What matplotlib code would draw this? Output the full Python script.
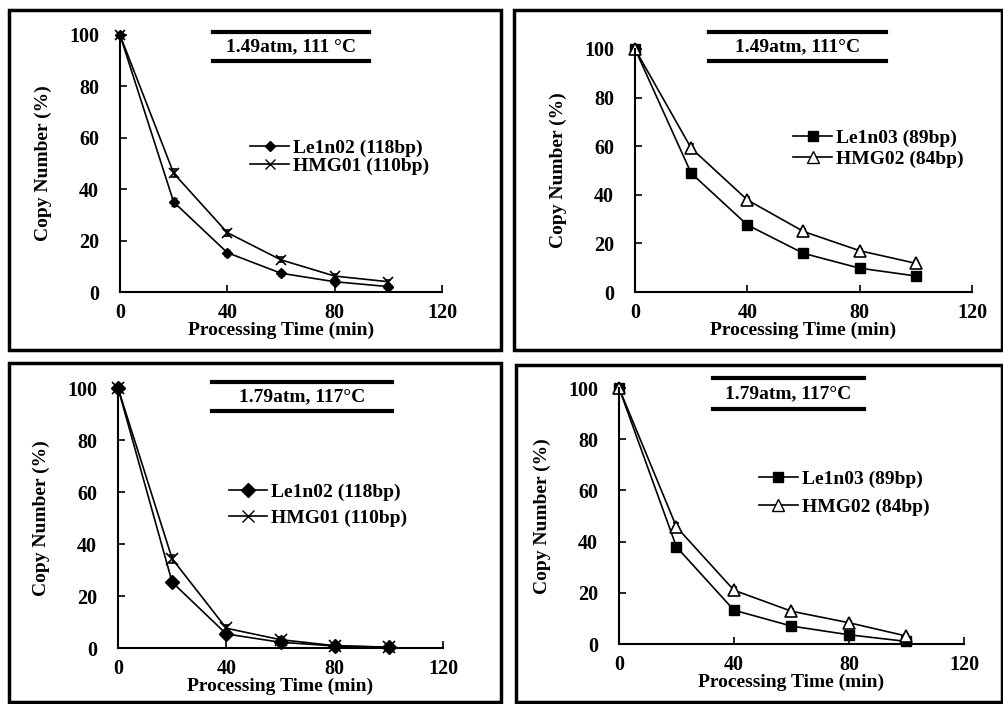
import matplotlib.pyplot as plt
from matplotlib.patches import Rectangle
from matplotlib.lines import Line2D

# processing time (min)
time = [0, 20, 40, 60, 80, 100]

# 1.49atm, 111 C
le1n02_111 = [100, 35, 15.3, 7.3, 4.0, 2.1]
hmg01_111 = [100, 46.2, 23.1, 12.5, 6.2, 4.0]
le1n03_111 = [100, 48.9, 27.6, 15.9, 9.8, 6.6]
hmg02_111 = [100, 59.2, 37.9, 24.9, 17.0, 11.8]

# 1.79atm, 117 C
le1n02_117 = [100, 25.3, 5.4, 2.2, 0.8, 0.3]
hmg01_117 = [100, 34.3, 7.6, 3.2, 0.9, 0.3]
le1n03_117 = [100, 37.9, 13.2, 7.0, 3.6, 1.0]
hmg02_117 = [100, 45.7, 21.0, 12.8, 8.3, 3.1]

# small error bars seen on the points
err = [0, 1.5, 1.2, 1.0, 0.8, 0.8]

conditions = ['1.49atm, 111 \u00b0C', '1.49atm, 111\u00b0C', '1.79atm, 117\u00b0C', '1.79atm, 117\u00b0C']

plt.rcParams['font.family'] = ['Liberation Serif', 'DejaVu Serif']
plt.rcParams['font.weight'] = 'bold'

W, H = 1004, 704
fig = plt.figure(figsize=(10.04, 7.04), dpi=100)


def box(x0, y0, x1, y1):
    # pixel box (top-left origin) -> figure fraction
    return [x0 / W, 1 - y1 / H, (x1 - x0) / W, (y1 - y0) / H]


# panel frames
for x0, y0, x1, y1 in [(9, 10, 501, 350), (514, 10, 1002, 350),
                       (9, 363, 501, 702), (516, 365, 1002, 702)]:
    fig.add_artist(Rectangle((x0 / W, 1 - y1 / H), (x1 - x0) / W, (y1 - y0) / H,
                             transform=fig.transFigure, fill=False,
                             edgecolor='black', linewidth=2.5))

# pos, series, labels, markers, marker sizes, condition bars, legend anchor, legend spacing
panels = [
    (box(120, 35, 442, 292), le1n02_111, hmg01_111, 'Le1n02 (118bp)', 'HMG01 (110bp)', 'D', 'x', 5, 7,
     (213, 369, 32, 61), (0.405, 0.525), 0.05),
    (box(635, 49, 972, 292), le1n03_111, hmg02_111, 'Le1n03 (89bp)', 'HMG02 (84bp)', 's', '^', 7, 8,
     (709, 886, 32, 61), (0.47, 0.59), 0.2),
    (box(118, 388, 443, 648), le1n02_117, hmg01_117, 'Le1n02 (118bp)', 'HMG01 (110bp)', 'D', 'x', 7, 8,
     (212, 392, 382, 411), (0.34, 0.55), 0.4),
    (box(619, 388, 964, 644), le1n03_117, hmg02_117, 'Le1n03 (89bp)', 'HMG02 (84bp)', 's', '^', 7, 8,
     (713, 864, 378, 409), (0.405, 0.59), 0.55),
]

for i, (pos, s1, s2, lab1, lab2, m1, m2, ms1, ms2, bar, legpos, lsp) in enumerate(panels):
    ax = fig.add_axes(pos)
    ax.errorbar(time, s1, yerr=err, color='black', lw=1.2, marker=m1,
                ms=ms1, mfc='black', capsize=2, elinewidth=1, clip_on=False)
    ax.errorbar(time, s2, yerr=err, color='black', lw=1.2, marker=m2,
                ms=ms2, mfc='white', mew=1.2, capsize=2, elinewidth=1, clip_on=False)
    ax.set_xlim(0, 120)
    ax.set_ylim(0, 100)
    ax.set_xticks([0, 40, 80, 120])
    ax.set_yticks([0, 20, 40, 60, 80, 100])
    ax.spines['top'].set_visible(False)
    ax.spines['right'].set_visible(False)
    ax.spines['left'].set_linewidth(1.5)
    ax.spines['bottom'].set_linewidth(1.5)
    ax.tick_params(direction='in', length=5, width=1.2, labelsize=14.5)
    ax.tick_params(axis='x', pad=8)
    ax.tick_params(axis='y', pad=15)
    for t in ax.get_xticklabels() + ax.get_yticklabels():
        t.set_fontweight('bold')
    ax.set_xlabel('Processing Time (min)', fontsize=14, fontweight='bold', labelpad=-1)
    ax.set_ylabel('Copy Number (%)', fontsize=14, fontweight='bold', labelpad=12)

    handles = [Line2D([], [], color='black', lw=1.2, marker=m1, mfc='black', ms=ms1),
               Line2D([], [], color='black', lw=1.2, marker=m2, mfc='white', ms=ms2)]
    ax.legend(handles, [lab1, lab2], loc='center left', bbox_to_anchor=legpos, frameon=False,
              prop={'size': 14, 'weight': 'bold'}, handlelength=2.0, handletextpad=0.2,
              labelspacing=lsp, borderpad=0, borderaxespad=0)

    # condition label between two thick bars
    bx0, bx1, by0, by1 = bar
    for by in (by0, by1):
        fig.add_artist(Line2D([bx0 / W, bx1 / W], [1 - by / H, 1 - by / H],
                              transform=fig.transFigure, color='black', lw=3))
    fig.text((bx0 + bx1) / 2 / W, 1 - (by0 + by1) / 2 / H, conditions[i],
             ha='center', va='center', fontsize=14, fontweight='bold')

fig.savefig('out.png', dpi=100)
